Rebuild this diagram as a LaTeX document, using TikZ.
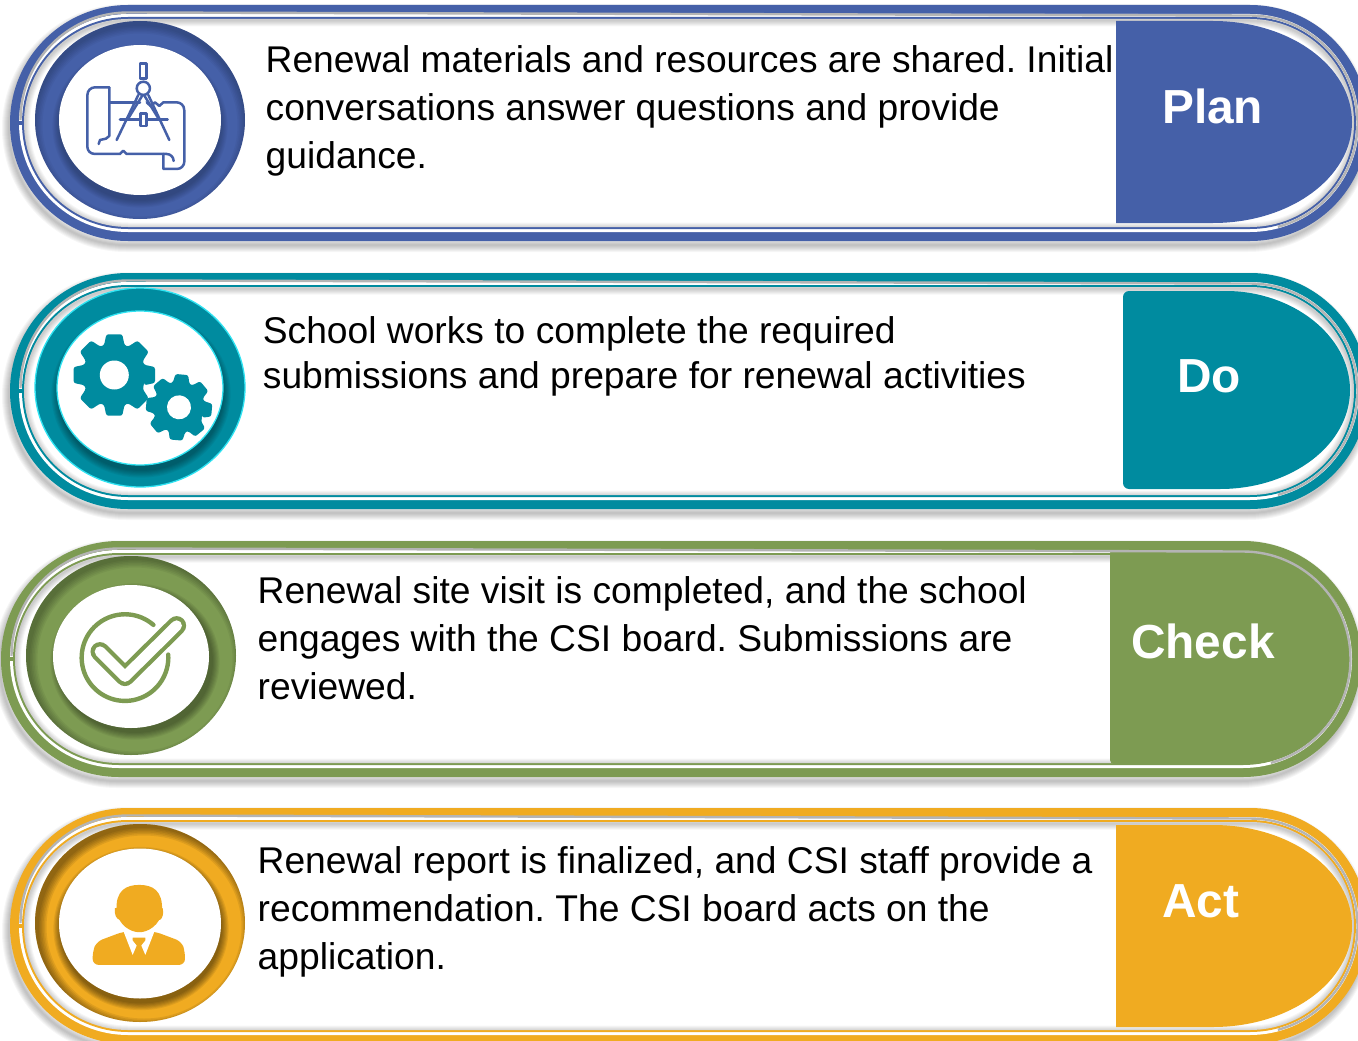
\documentclass[tikz,border=0pt]{standalone}
\usepackage{fontspec}
\setmainfont{Liberation Sans}
\frenchspacing
\usetikzlibrary{calc}
\definecolor{cplan}{HTML}{4560A8}
\definecolor{cdo}{HTML}{008B9F}
\definecolor{ccheck}{HTML}{7D9B52}
\definecolor{cact}{HTML}{F0AB21}
\definecolor{rimgrey}{HTML}{B4B4B4}
\definecolor{rimcyan}{HTML}{2FE3F2}
\tikzset{
  bodytext/.style={anchor=north west,inner sep=0pt,align=left,text=black,font=\fontsize{37.2}{48}\selectfont},
  bodytextb/.style={bodytext,font=\fontsize{37.2}{45}\selectfont},
  tablabel/.style={anchor=base west,inner sep=0pt,text=white,font=\fontsize{47.8}{50}\selectfont\bfseries},
  iconline/.style={line width=2.5pt,line cap=round,line join=round,fill=none}
}
% pill path at an inset
\newcommand\pillat[5]{[rounded corners=\fpeval{118-#5}pt] (#1+#5,#2+#5) rectangle (#3-#5,#4-#5) [sharp corners]}
% x0 y0 x1 y1 colour
\newcommand\bandbase[5]{%
  \foreach \i in {1,...,7}{\draw[black,opacity=.035,line width=\i*2pt,yshift=-5pt,xshift=-2pt] \pillat{#1}{#2}{#3}{#4}{1};}
  \fill[#5] \pillat{#1}{#2}{#3}{#4}{0};
  \fill[white] \pillat{#1}{#2}{#3}{#4}{9};
  \fill[#5] \pillat{#1}{#2}{#3}{#4}{12};
  \fill[white] \pillat{#1}{#2}{#3}{#4}{14};
  \begin{scope}
    \clip \pillat{#1}{#2}{#3}{#4}{14};
    \foreach \i in {1,...,6}{\draw[black,opacity=.035,line width=\i*2pt,yshift=-1.5pt] \pillat{#1}{#2}{#3}{#4}{14};}
  \end{scope}
}
% x0 y0 x1 y1 colour : rim line drawn last
\newcommand\bandrim[5]{%
  \draw[rimgrey,line width=2.4pt] (#1+10.5,#2+115) arc[start angle=180,end angle=90,radius=107.5pt] -- (#3-118,#2+10.5)
     arc[start angle=90,end angle=-75,radius=107.5pt];
  \fill[#5] (#1+8,#2+116) rectangle (#1+14,#2+120);
}
\newcommand\ringbase[8]{%
  \fill[#8] (#1,#2) ellipse[x radius=#3pt,y radius=#4pt];
}
\newcommand\ringshade[9]{%
  \begin{scope}
    \clip (#1,#2) ellipse[x radius=#3pt,y radius=#4pt];
    \foreach \i in {0,...,5}{\fill[black,opacity=#7,even odd rule,xshift=#5pt,yshift=#6pt]
       (#1-150,#2-150) rectangle (#1+150,#2+150)
       (#1,#2) ellipse[x radius=#3pt-\i*1.5pt,y radius=#4pt-\i*1.5pt];}
    \foreach \i in {0,...,6}{\fill[black,opacity=#9,xshift=\ringdx pt,yshift=\ringdy pt]
       (#1,\ringicy) ellipse[x radius=\ringirx pt+\i*1.1pt,y radius=\ringiry pt+\i*1.1pt];}
  \end{scope}
  \fill[white] (#1,\ringicy) ellipse[x radius=\ringirx pt,y radius=\ringiry pt];
}
% gear: cx cy R root hole rotation colour
\newcommand\gearicon[7]{%
  \begin{scope}[shift={(#1,#2)},rotate=#6]
  \fill[#7,rounded corners=2.2pt]
    (-19:#4pt)
    \foreach \a in {0,45,...,315}{
      -- (\a-19:#4pt) -- (\a-11:#3pt) -- (\a+11:#3pt) -- (\a+19:#4pt)
    } -- cycle;
  \fill[white] (0,0) circle[radius=#5pt];
  \end{scope}
}
\begin{document}
\begin{tikzpicture}[x=1pt,y=-1pt]
\useasboundingbox (0,0) rectangle (1358,1041);
\clip (0,0) rectangle (1358,1041);
\fill[white] (0,0) rectangle (1358,1041);

%%% PLAN
\bandbase{10}{5}{1368}{241}{cplan}
\fill[cplan] (1116,223) -- (1116,21) -- (1213,21) arc[start angle=90,end angle=-90,x radius=139pt,y radius=101pt] -- cycle;
\bandrim{10}{5}{1368}{241}{cplan}
\ringbase{140}{120}{105}{99}{81}{75}{120}{cplan}
\def\ringdx{0}\def\ringdy{-6}\def\ringicy{120}\def\ringirx{81}\def\ringiry{75}
\ringshade{140}{120}{105}{99}{0}{-5}{.035}{x}{.035}
\begin{scope}[x=.3333pt,y=-.3333pt,cplan]
  \draw[iconline] (328,262) -- (285,262) arc[start angle=90,end angle=180,radius=7.6pt] -- (262,440) arc[start angle=180,end angle=270,radius=7.3pt]
    -- (360,462) -- (370,452) -- (380,462) -- (500,462) arc[start angle=90,end angle=0,radius=7pt];
  \draw[iconline] (328,262) -- (328,408) -- (318,416) -- (300,420) -- (296,432);
  \draw[iconline] (328,307) -- (420,307);
  \draw[iconline] (440,307) -- (452,318) -- (465,307) -- (478,318) -- (490,307) -- (530,307) arc[start angle=90,end angle=0,radius=7.6pt] -- (553,485) arc[start angle=0,end angle=-90,radius=7.3pt] -- (490,507) -- (490,462);
  \draw[iconline] (420,190) rectangle (440,235);
  \draw[iconline] (430,265) circle[radius=6.6pt];
  \draw[iconline] (415,285) -- (350,420);
  \draw[iconline] (445,285) -- (508,420);
  \draw[iconline] (428,285) -- (385,355);
  \draw[iconline] (432,285) -- (475,355);
  \draw[iconline] (360,358) -- (503,358);
  \filldraw[iconline,fill=white] (422,340) rectangle (440,378);
\end{scope}
\node[bodytext] (t1) at (265.5,45) {Renewal materials and resources are shared. Initial\\conversations answer questions and provide\\guidance.};
\node[tablabel] (l1) at (1162,123) {Plan};

%%% DO
\bandbase{10}{273}{1368}{509}{cdo}
\fill[cdo,rounded corners=6pt] (1220,489) -- (1123,489) -- (1123,291) -- (1220,291) [sharp corners] arc[start angle=90,end angle=-90,x radius=130pt,y radius=99pt] -- cycle;
\bandrim{10}{273}{1368}{509}{cdo}
\ringbase{140}{387.5}{105}{99.5}{83}{77}{388}{cdo}
\def\ringdx{1}\def\ringdy{-6}\def\ringicy{388}\def\ringirx{83}\def\ringiry{77}
\ringshade{140}{387.5}{105}{99.5}{0}{-30}{0}{x}{.05}
\draw[rimcyan,line width=1.3pt] (140,387.5) ellipse[x radius=105pt,y radius=99.5pt];
\draw[rimcyan,line width=1.3pt] (140,388) ellipse[x radius=83pt,y radius=77pt];
\gearicon{114.3}{375}{41.5}{31.5}{14.5}{0}{cdo}
\gearicon{179}{407.3}{33.5}{25.5}{12}{-5}{cdo}
\node[bodytextb] (t2) at (262.7,316.5) {School works to complete the required\\submissions and prepare for renewal activities};
\node[tablabel] (l2) at (1177,392) {Do};

%%% CHECK
\bandbase{1}{541}{1361}{777}{ccheck}
\fill[ccheck,rounded corners=4pt] (1247,764) -- (1110,764) -- (1110,549) -- (1247,549) [sharp corners] arc[start angle=90,end angle=-90,x radius=103pt,y radius=107.5pt] -- cycle;
\bandrim{1}{541}{1361}{777}{ccheck}
\ringbase{131}{655.5}{105}{99.5}{78}{71.5}{656.5}{ccheck}
\def\ringdx{4}\def\ringdy{-5}\def\ringicy{656.5}\def\ringirx{78}\def\ringiry{71.5}
\ringshade{131}{655.5}{105}{99.5}{4}{-4}{.05}{x}{.055}
\begin{scope}[x=.3333pt,y=-.3333pt,shift={(0,1605)}]
  \draw[ccheck,line width=4.4pt,line cap=round] plot[smooth,domain=49:364,samples=70] ({375+130*cos(\x)},{368-130*sin(\x)});
  \draw[ccheck,line width=19pt,line cap=round,line join=round] (300,350) -- (375,425) -- (530,272);
  \draw[white,line width=10.6pt,line cap=round,line join=round] (300,350) -- (375,425) -- (530,272);
\end{scope}
\node[bodytext] (t3) at (257.5,576) {Renewal site visit is completed, and the school\\engages with the CSI board. Submissions are\\reviewed.};
\node[tablabel] (l3) at (1131,658) {Check};

%%% ACT
\bandbase{10}{808}{1368}{1044}{cact}
\fill[cact] (1116,1027) -- (1116,825) -- (1213,825) arc[start angle=90,end angle=-90,x radius=139pt,y radius=101pt] -- cycle;
\bandrim{10}{808}{1368}{1044}{cact}
\ringbase{140}{923}{105}{99}{81}{75}{923.5}{cact}
\def\ringdx{1}\def\ringdy{-5}\def\ringicy{923.5}\def\ringirx{81}\def\ringiry{75}
\ringshade{140}{923}{105}{99}{4}{-4}{.08}{x}{.075}
\begin{scope}[x=.3333pt,y=-.3333pt,shift={(0,2400)}]
  \fill[cact,rounded corners=6pt] (278,495) -- (278,455) -- (290,425) -- (370,395) -- (465,395) -- (545,425) -- (555,455) -- (555,495) -- cycle;
  \fill[white] (370,393) -- (398,465) -- (410,437) -- (398,422) -- (398,413) -- (436,413) -- (436,422) -- (424,437) -- (436,465) -- (464,393) -- cycle;
  \fill[cact] (350,335) .. controls (345,270) and (380,255) .. (418,255) .. controls (456,255) and (490,270) .. (486,335) .. controls (480,375) and (445,397) .. (418,397) .. controls (391,397) and (356,375) .. (350,335) -- cycle;
  \fill[cact] (345,325) .. controls (342,345) and (350,358) .. (360,360) -- (480,360) .. controls (488,355) and (492,340) .. (488,325) -- cycle;
\end{scope}
\node[bodytext] (t4) at (257.5,846) {Renewal report is finalized, and CSI staff provide a\\recommendation. The CSI board acts on the\\application.};
\node[tablabel] (l4) at (1162,917) {Act};
\end{tikzpicture}
\end{document}
